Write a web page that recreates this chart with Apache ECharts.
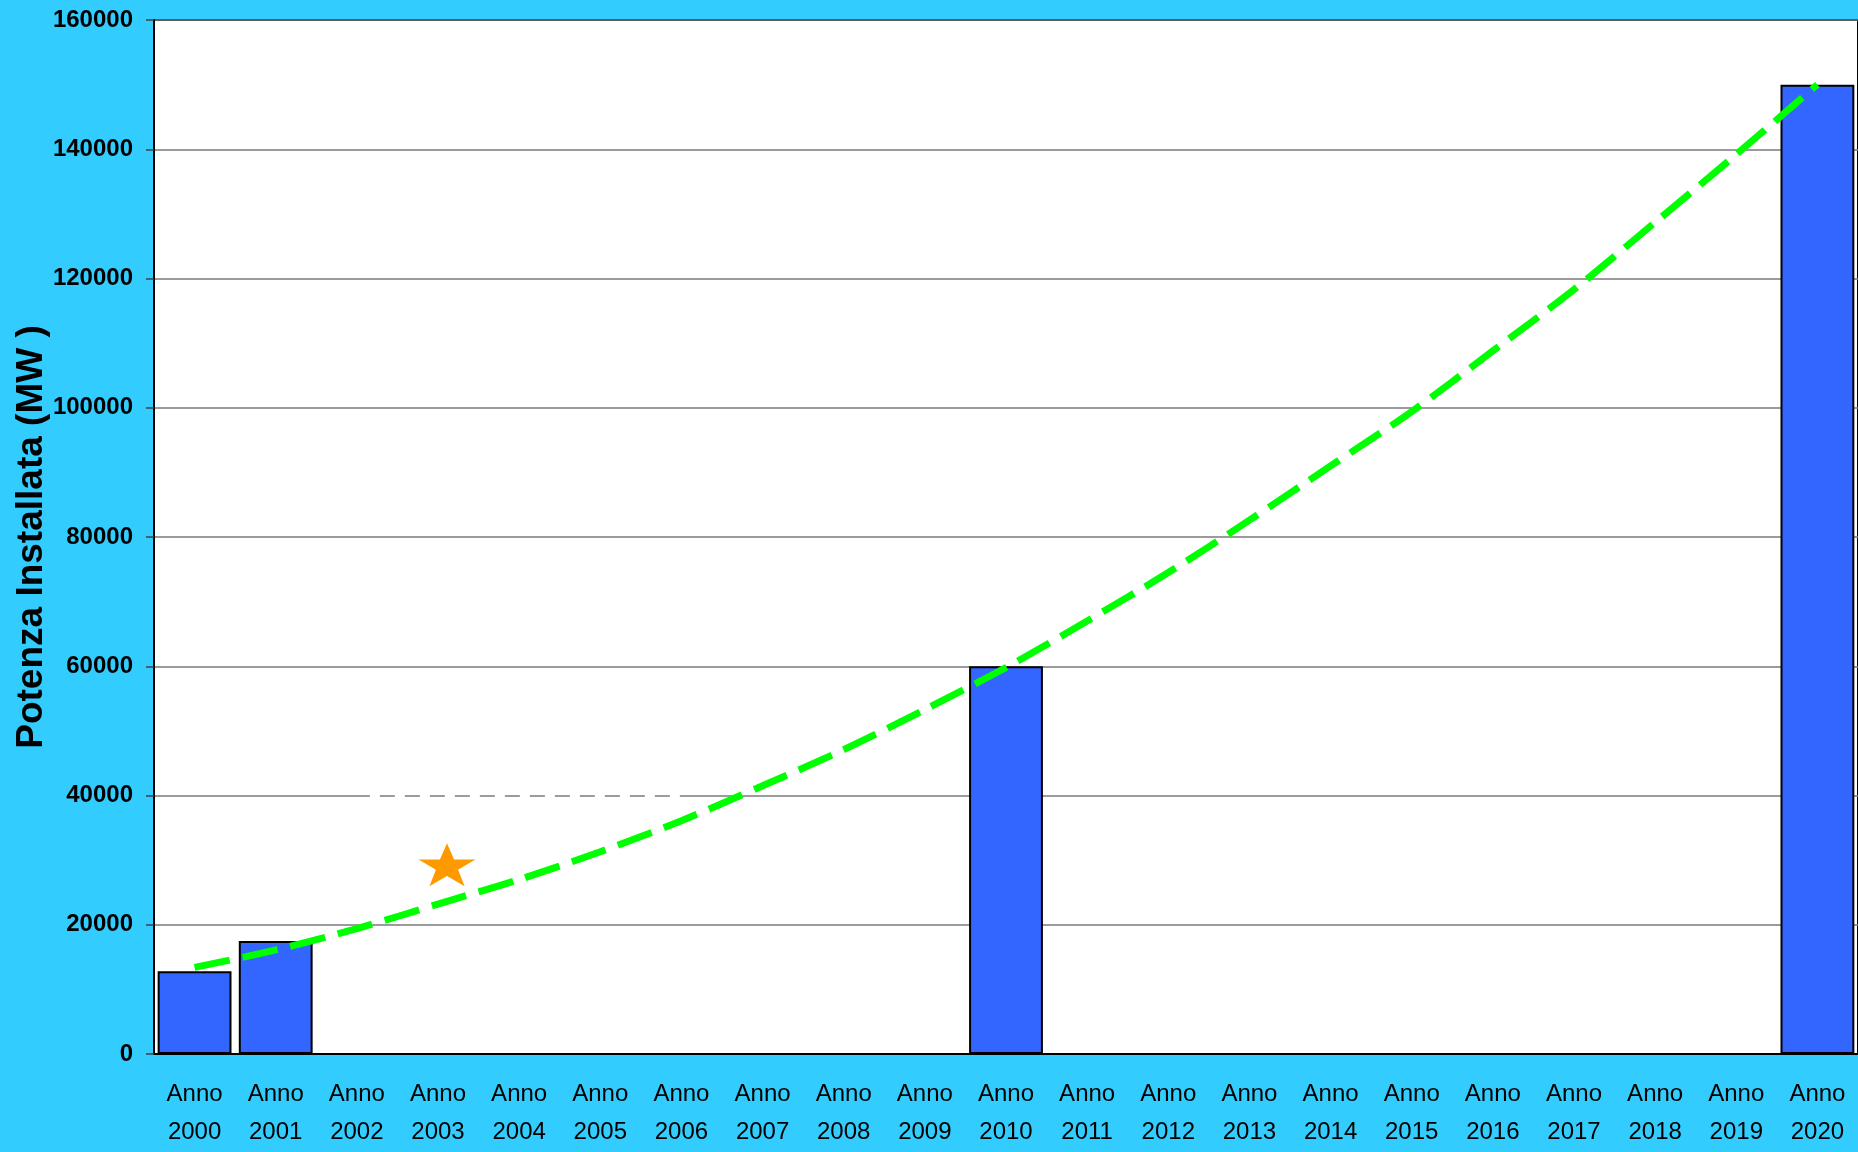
<!DOCTYPE html>
<html>
<head>
<meta charset="utf-8">
<title>Potenza Installata</title>
<script src="https://cdn.jsdelivr.net/npm/echarts@6/dist/echarts.min.js"></script>
<style>
    html, body {
        margin: 0;
        padding: 0;
        background: #33ccff;
    }
    #chart {
        width: 1858px;
        height: 1152px;
    }
</style>
</head>
<body>
<div id="chart"></div>
<script>
    // anni sull'asse x
    const years = ['2000', '2001', '2002', '2003', '2004', '2005', '2006', '2007', '2008', '2009', '2010',
        '2011', '2012', '2013', '2014', '2015', '2016', '2017', '2018', '2019', '2020']
    const categories = years.map(y => 'Anno\n' + y)

    // potenza installata (MW), solo alcuni anni hanno la barra
    const installed = [12800, 17500, null, null, null, null, null, null, null, null, 60000,
        null, null, null, null, null, null, null, null, null, 150000]

    // linea di tendenza tratteggiata verde
    const trend = [13400, 16100, 19400, 23200, 27000, 31300, 36100, 41500, 47100, 53300, 59800,
        67000, 74500, 82600, 91000, 99400, 108800, 118300, 128700, 139200, 150000]

    // tratto interrotto della griglia a 40000
    const gridBreak = [null, null, 40000, 40000, 40000, 40000, 40000, null, null, null, null,
        null, null, null, null, null, null, null, null, null, null]

    // stella arancione
    const starPoint = [['Anno\n2003', 29300]]

    const yTicks = {min: 0, max: 160000, interval: 20000}

    const starPath = 'path://M50,0 L61.8,34.5 L97.6,34.5 L68.5,55.9 L79.4,90.5 L50,69.1 L20.6,90.5 L31.5,55.9 L2.4,34.5 L38.2,34.5 Z'

    const labelFont = '"Liberation Sans", Arial, sans-serif'

    const chart = echarts.init(document.getElementById('chart'))

    const option = {
        backgroundColor: '#33ccff',
        animation: false,
        grid: {
            left: 154,
            right: 0,
            top: 20,
            bottom: 98,
            outerBoundsMode: 'none',
            containLabel: false,
            show: true,
            backgroundColor: '#ffffff',
            borderColor: '#000000',
            borderWidth: 2
        },
        xAxis: {
            type: 'category',
            data: categories,
            boundaryGap: true,
            axisLine: {lineStyle: {color: '#000000', width: 2}},
            axisTick: {length: 10, lineStyle: {color: '#1a3a44', width: 1.5}},
            axisLabel: {
                interval: 0,
                margin: 21,
                color: '#000000',
                fontFamily: labelFont,
                fontSize: 24,
                lineHeight: 38
            }
        },
        yAxis: {
            type: 'value',
            min: yTicks.min,
            max: yTicks.max,
            interval: yTicks.interval,
            name: 'Potenza Installata (MW )',
            nameLocation: 'middle',
            nameGap: 104,
            nameMoveOverlap: false,
            nameTextStyle: {
                color: '#000000',
                fontFamily: labelFont,
                fontWeight: 'bold',
                fontSize: 37
            },
            axisLine: {show: true, lineStyle: {color: '#000000', width: 2}},
            axisTick: {show: true, length: 8, lineStyle: {color: '#404040', width: 1.5}},
            axisLabel: {
                margin: 21,
                color: '#000000',
                fontFamily: labelFont,
                fontWeight: 'bold',
                fontSize: 24,
                formatter: v => String(v)
            },
            splitLine: {lineStyle: {color: '#7a7a7a', width: 1.5}}
        },
        series: [
            {
                name: 'griglia',
                type: 'line',
                data: gridBreak,
                symbol: 'none',
                silent: true,
                z: 1,
                lineStyle: {color: '#ffffff', width: 3, type: [10, 15], dashOffset: 12}
            },
            {
                name: 'Potenza',
                type: 'bar',
                data: installed,
                barWidth: '91%',
                z: 2,
                itemStyle: {color: '#3366ff', borderColor: '#000000', borderWidth: 2}
            },
            {
                name: 'Tendenza',
                type: 'line',
                data: trend,
                symbol: 'none',
                smooth: 0.3,
                z: 3,
                lineStyle: {color: '#00ff00', width: 7, type: [36, 13]}
            },
            {
                name: 'stella',
                type: 'scatter',
                data: starPoint,
                symbol: starPath,
                symbolSize: [57, 43],
                symbolOffset: [9, 0],
                z: 4,
                itemStyle: {color: '#ff9900', opacity: 1}
            }
        ]
    }

    chart.setOption(option)
</script>
</body>
</html>
